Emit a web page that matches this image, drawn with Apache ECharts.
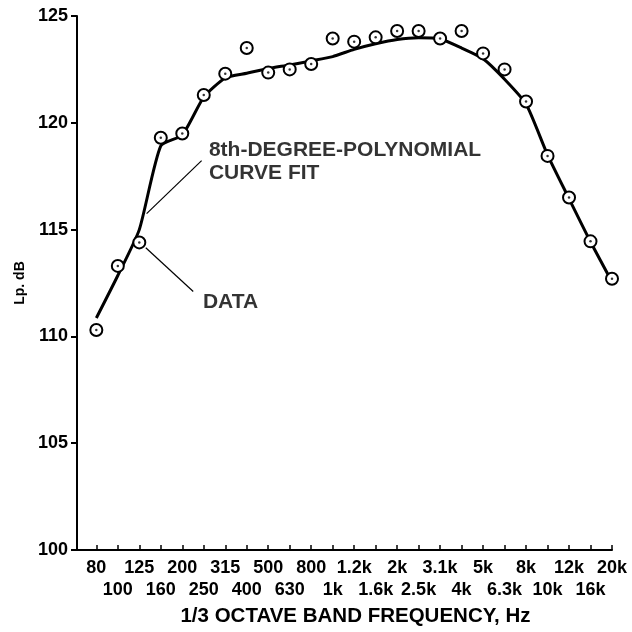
<!DOCTYPE html>
<html>
<head>
<meta charset="utf-8">
<script src="https://cdn.jsdelivr.net/npm/echarts@6/dist/echarts.min.js"></script>
<style>
  html, body { margin: 0; padding: 0; background: #fff; }
  #chart { width: 632px; height: 632px; }
</style>
</head>
<body>
<div id="chart"></div>
<script>
// 1/3 octave band centre frequencies (tick labels)
const bands = ['80', '100', '125', '160', '200', '250', '315', '400', '500', '630', '800',
  '1k', '1.2k', '1.6k', '2k', '2.5k', '3.1k', '4k', '5k', '6.3k', '8k', '10k', '12k', '16k', '20k'];

// measured band levels, dB
const measured = [110.3, 113.3, 114.4, 119.3, 119.5, 121.3, 122.3, 123.5, 122.35, 122.5, 122.75,
  123.95, 123.8, 124.0, 124.3, 124.3, 123.95, 124.3, 123.25, 122.5, 121.0, 118.45, 116.5, 114.45, 112.7];

// 8th-degree polynomial fit evaluated at each band
const fitted = [110.86, 112.85, 115.0, 118.92, 119.43, 121.2, 122.1, 122.32, 122.54, 122.71, 122.9,
  123.1, 123.44, 123.7, 123.9, 123.98, 123.92, 123.5, 123.0, 122.04, 120.88, 118.5, 116.45, 114.43, 112.55];

// callout leaders, in (band index, dB)
const fitLeader = [[2.34, 115.75], [4.9, 118.23]];
const dataLeader = [[2.3, 114.15], [4.51, 112.1]];
const fitNote = [5.24, 118.17];
const dataNote = [4.96, 111.6];

const FONT = 'Liberation Sans';
const INK = '#000';
const idx = bands.map((_, i) => i);
const evenIdx = idx.filter(i => i % 2 === 0);
const oddIdx = idx.filter(i => i % 2 === 1);

const chart = echarts.init(document.getElementById('chart'), null, { renderer: 'canvas' });

const tickLabel = {
  fontSize: 18,
  fontWeight: 'bold',
  color: INK,
  fontFamily: FONT,
  hideOverlap: false,
  formatter: (v) => bands[Math.round(v)]
};

chart.setOption({
  animation: false,
  backgroundColor: '#fff',
  textStyle: { fontFamily: FONT, color: INK },
  grid: { left: 77, right: 20, top: 16, bottom: 79, containLabel: false },
  xAxis: [
    {
      // staggered frequency labels, upper row + axis line and ticks
      type: 'value',
      position: 'bottom',
      min: -0.9,
      max: 24,
      splitLine: { show: false },
      axisLine: { onZero: false, lineStyle: { color: INK, width: 2 } },
      axisTick: { show: true, inside: true, length: 5, customValues: idx, lineStyle: { color: INK, width: 1.5 } },
      axisLabel: Object.assign({ customValues: evenIdx, margin: 9, showMinLabel: true, showMaxLabel: true }, tickLabel),
      name: '1/3 OCTAVE BAND FREQUENCY, Hz',
      nameLocation: 'middle',
      nameGap: 56,
      nameTextStyle: { fontSize: 20.5, fontWeight: 'bold', color: INK, fontFamily: FONT, padding: [0, 0, 0, 22] }
    },
    {
      // lower row of frequency labels
      type: 'value',
      position: 'bottom',
      min: -0.9,
      max: 24,
      splitLine: { show: false },
      axisLine: { show: false, onZero: false },
      axisTick: { show: false },
      axisLabel: Object.assign({ customValues: oddIdx, margin: 31, showMinLabel: true, showMaxLabel: true }, tickLabel)
    }
  ],
  yAxis: {
    type: 'value',
    min: 100,
    max: 125,
    interval: 5,
    splitLine: { show: false },
    axisLine: { onZero: false, lineStyle: { color: INK, width: 2 } },
    axisTick: { inside: false, length: 6, lineStyle: { color: INK, width: 2 } },
    axisLabel: { margin: 9, fontSize: 18, fontWeight: 'bold', color: INK, fontFamily: FONT },
    name: 'Lp. dB',
    nameLocation: 'middle',
    nameRotate: 90,
    nameGap: 46,
    nameTextStyle: { fontSize: 14, fontWeight: 'bold', color: INK, fontFamily: FONT }
  },
  series: [
    {
      name: 'fit',
      type: 'line',
      data: idx.map(i => [i, fitted[i]]),
      smooth: 0.2,
      showSymbol: false,
      lineStyle: { color: INK, width: 3 },
      z: 2
    },
    {
      name: 'fit leader',
      type: 'line',
      data: fitLeader,
      showSymbol: false,
      lineStyle: { color: INK, width: 1.2 },
      z: 1
    },
    {
      name: 'data leader',
      type: 'line',
      data: dataLeader,
      showSymbol: false,
      lineStyle: { color: INK, width: 1.2 },
      z: 1
    },
    {
      name: 'data',
      type: 'scatter',
      data: idx.map(i => [i, measured[i]]),
      symbol: 'circle',
      symbolSize: 12,
      itemStyle: { color: '#fff', borderColor: INK, borderWidth: 2, opacity: 1 },
      z: 3
    },
    {
      name: 'data centre',
      type: 'scatter',
      data: idx.map(i => [i, measured[i]]),
      symbol: 'circle',
      symbolSize: 2.5,
      itemStyle: { color: INK },
      z: 4
    },
    {
      name: 'notes',
      type: 'scatter',
      symbolSize: 0,
      data: [
        { value: fitNote, label: { formatter: '8th-DEGREE-POLYNOMIAL\nCURVE FIT' } },
        { value: dataNote, label: { formatter: 'DATA' } }
      ],
      label: {
        show: true,
        position: 'inside',
        align: 'left',
        verticalAlign: 'middle',
        fontSize: 21,
        lineHeight: 23,
        fontWeight: 'bold',
        color: INK,
        fontFamily: FONT
      },
      z: 5
    }
  ]
});
</script>
</body>
</html>
